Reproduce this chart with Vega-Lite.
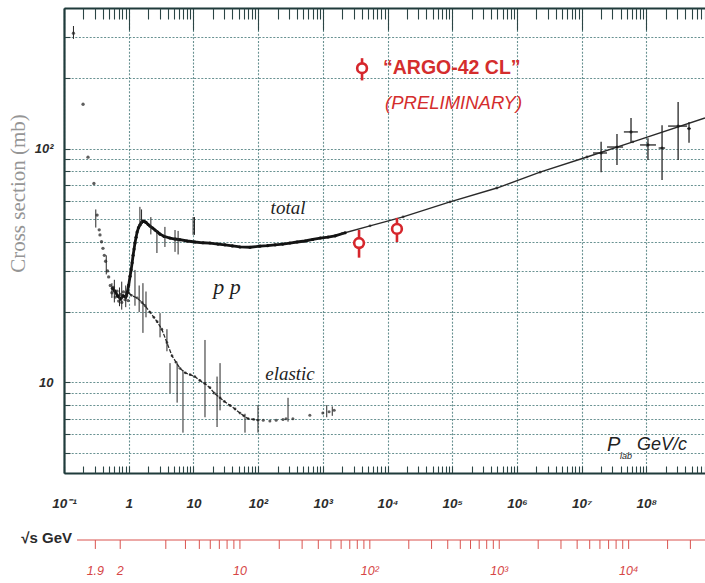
{
  "$schema": "https://vega.github.io/schema/vega-lite/v6.json",
  "width": 641,
  "height": 465,
  "autosize": {"type": "none"},
  "padding": {"left": 64, "top": 8, "right": 0, "bottom": 110},
  "background": "#ffffff",
  "config": {
    "view": {"stroke": null},
    "axis": {
      "labelFont": "Liberation Sans",
      "titleFont": "Liberation Sans",
      "labelOverlap": false,
      "labelFlush": false,
      "labelBound": false,
      "domainColor": "#1f3b3b",
      "domainWidth": 2.2,
      "tickColor": "#2b4545",
      "tickWidth": 1.1,
      "gridColor": "#4f7f7f",
      "gridDash": [2, 1.6],
      "gridWidth": 1.1,
      "gridOpacity": 0.85
    }
  },
  "datasets": {
    "total": [
      {"p": 0.56, "sigma": 25.3}, {"p": 0.61, "sigma": 24.6}, {"p": 0.68, "sigma": 23.4},
      {"p": 0.75, "sigma": 22.8}, {"p": 0.82, "sigma": 23.5}, {"p": 0.9, "sigma": 23.2}, {"p": 0.95, "sigma": 24.3},
      {"p": 1.0, "sigma": 26.1}, {"p": 1.05, "sigma": 28.5}, {"p": 1.09, "sigma": 30.3}, {"p": 1.13, "sigma": 32.5},
      {"p": 1.17, "sigma": 35.0}, {"p": 1.21, "sigma": 37.2}, {"p": 1.25, "sigma": 39.5}, {"p": 1.3, "sigma": 41.8},
      {"p": 1.35, "sigma": 44.0}, {"p": 1.42, "sigma": 46.0}, {"p": 1.49, "sigma": 47.2}, {"p": 1.58, "sigma": 48.4},
      {"p": 1.66, "sigma": 49.0}, {"p": 1.75, "sigma": 48.8}, {"p": 1.85, "sigma": 48.4}, {"p": 2.0, "sigma": 47.4},
      {"p": 2.13, "sigma": 46.7}, {"p": 2.35, "sigma": 45.8}, {"p": 2.55, "sigma": 44.9}, {"p": 2.8, "sigma": 44.0},
      {"p": 3.05, "sigma": 43.1}, {"p": 3.5, "sigma": 42.2}, {"p": 4.35, "sigma": 41.5}, {"p": 5.2, "sigma": 41.1},
      {"p": 6.2, "sigma": 40.8}, {"p": 8.0, "sigma": 40.3}, {"p": 10.6, "sigma": 39.9}, {"p": 14, "sigma": 39.6},
      {"p": 18, "sigma": 39.5}, {"p": 24, "sigma": 39.1}, {"p": 30.7, "sigma": 38.8}, {"p": 40, "sigma": 38.4},
      {"p": 52.5, "sigma": 38.0}, {"p": 75, "sigma": 37.9}, {"p": 107, "sigma": 38.3}, {"p": 140, "sigma": 38.5},
      {"p": 183, "sigma": 38.8}, {"p": 240, "sigma": 39.1}, {"p": 310, "sigma": 39.5}, {"p": 400, "sigma": 39.9},
      {"p": 530, "sigma": 40.3}, {"p": 700, "sigma": 40.9}, {"p": 912, "sigma": 41.5}, {"p": 1200, "sigma": 41.9},
      {"p": 1550, "sigma": 42.4}, {"p": 2220, "sigma": 43.7}
    ],
    "fit": [
      {"p": 2000, "sigma": 43.4}, {"p": 5370, "sigma": 46.8}, {"p": 17400, "sigma": 51.1}, {"p": 92500, "sigma": 59.2},
      {"p": 490000, "sigma": 67.9}, {"p": 2280000, "sigma": 79.4}, {"p": 12100000, "sigma": 92.2},
      {"p": 62000000, "sigma": 107}, {"p": 807000000, "sigma": 135.5}
    ],
    "lowpts": [
      {"p": 0.14, "sigma": 312}, {"p": 0.197, "sigma": 155}, {"p": 0.235, "sigma": 92}, {"p": 0.29, "sigma": 71},
      {"p": 0.325, "sigma": 52}, {"p": 0.35, "sigma": 45}, {"p": 0.36, "sigma": 42.8}, {"p": 0.38, "sigma": 40},
      {"p": 0.4, "sigma": 37.5}, {"p": 0.42, "sigma": 35}, {"p": 0.44, "sigma": 33}, {"p": 0.47, "sigma": 30},
      {"p": 0.49, "sigma": 28.3}, {"p": 0.52, "sigma": 26}, {"p": 0.55, "sigma": 24.2}, {"p": 0.58, "sigma": 25.5},
      {"p": 0.62, "sigma": 23.2}, {"p": 0.66, "sigma": 24.6}, {"p": 0.7, "sigma": 22.3}, {"p": 0.74, "sigma": 23.8},
      {"p": 0.78, "sigma": 22.0}, {"p": 0.83, "sigma": 24.4}, {"p": 0.88, "sigma": 22.6}, {"p": 0.93, "sigma": 23.5},
      {"p": 0.98, "sigma": 22.4}
    ],
    "elastic": [
      {"p": 1.0, "sigma": 24.2}, {"p": 1.1, "sigma": 23.6}, {"p": 1.35, "sigma": 23.0}, {"p": 1.6, "sigma": 22.0},
      {"p": 1.79, "sigma": 21.3}, {"p": 2.13, "sigma": 20.0}, {"p": 2.45, "sigma": 19.0}, {"p": 2.75, "sigma": 18.2},
      {"p": 3.25, "sigma": 16.9}, {"p": 3.9, "sigma": 14.8}, {"p": 4.67, "sigma": 13.0}, {"p": 5.4, "sigma": 12.2},
      {"p": 6.2, "sigma": 11.5}, {"p": 7.5, "sigma": 11.0}, {"p": 8.9, "sigma": 10.8}, {"p": 10.5, "sigma": 10.6},
      {"p": 12.6, "sigma": 10.2}, {"p": 15, "sigma": 9.9}, {"p": 18, "sigma": 9.5}, {"p": 21, "sigma": 9.0},
      {"p": 25.8, "sigma": 8.6}, {"p": 30, "sigma": 8.3}, {"p": 36.8, "sigma": 7.98}, {"p": 44, "sigma": 7.7},
      {"p": 52.5, "sigma": 7.4}, {"p": 60, "sigma": 7.2}, {"p": 70, "sigma": 7.0}, {"p": 85, "sigma": 6.95},
      {"p": 100, "sigma": 6.9}
    ],
    "elasticpts": [
      {"p": 120, "sigma": 6.9}, {"p": 152, "sigma": 6.85}, {"p": 190, "sigma": 6.9}, {"p": 242, "sigma": 6.95},
      {"p": 270, "sigma": 7.0}, {"p": 345, "sigma": 7.0}, {"p": 630, "sigma": 7.25}, {"p": 1000, "sigma": 7.4},
      {"p": 1250, "sigma": 7.5}, {"p": 1500, "sigma": 7.6}
    ],
    "errs": [
      {"p": 0.14, "lo": 295, "hi": 335}, {"p": 0.31, "lo": 46, "hi": 55}, {"p": 0.45, "lo": 29, "hi": 35},
      {"p": 0.55, "lo": 23.0, "hi": 26.6}, {"p": 0.6, "lo": 22, "hi": 27.5}, {"p": 0.72, "lo": 21.2, "hi": 25.5},
      {"p": 0.78, "lo": 20.5, "hi": 27}, {"p": 0.9, "lo": 21, "hi": 26}, {"p": 1.25, "lo": 21.3, "hi": 30.3},
      {"p": 1.49, "lo": 46.3, "hi": 56.4}, {"p": 1.58, "lo": 47, "hi": 55}, {"p": 1.45, "lo": 20, "hi": 26},
      {"p": 1.66, "lo": 16.3, "hi": 26.6}, {"p": 1.85, "lo": 19, "hi": 24.5}, {"p": 2.2, "lo": 43, "hi": 51},
      {"p": 2.73, "lo": 35.8, "hi": 44.9}, {"p": 3.05, "lo": 15.6, "hi": 19.8}, {"p": 3.63, "lo": 38.0, "hi": 46.3},
      {"p": 3.9, "lo": 13.6, "hi": 16.9}, {"p": 4.35, "lo": 9.0, "hi": 12.1}, {"p": 5.2, "lo": 36.2, "hi": 44.9},
      {"p": 5.6, "lo": 8.2, "hi": 12.1}, {"p": 5.8, "lo": 35.3, "hi": 44.5}, {"p": 6.9, "lo": 6.1, "hi": 11.3},
      {"p": 9.9, "lo": 42.8, "hi": 51}, {"p": 10.4, "lo": 42.8, "hi": 51}, {"p": 15.1, "lo": 7.1, "hi": 15.2},
      {"p": 23.2, "lo": 6.45, "hi": 10.6}, {"p": 25.8, "lo": 7.6, "hi": 12.1}, {"p": 62.7, "lo": 6.1, "hi": 7.35},
      {"p": 99.6, "lo": 6.1, "hi": 8.0}, {"p": 290, "lo": 6.8, "hi": 8.6}, {"p": 1150, "lo": 7.1, "hi": 8.0},
      {"p": 1400, "lo": 7.2, "hi": 7.9}
    ],
    "cosmic": [
      {"p": 20000000, "sigma": 95.9, "lo": 79.4, "hi": 107, "plo": 15000000, "phi": 24700000},
      {"p": 35200000, "sigma": 101.7, "lo": 85.1, "hi": 115.6, "plo": 24700000, "phi": 43700000},
      {"p": 58000000, "sigma": 118, "lo": 106, "hi": 135.5, "plo": 45000000, "phi": 74000000},
      {"p": 106000000, "sigma": 103.8, "lo": 89.6, "hi": 111, "plo": 80000000, "phi": 141000000},
      {"p": 175000000, "sigma": 100.7, "lo": 73.5, "hi": 126, "plo": 155000000, "phi": 195000000},
      {"p": 310000000, "sigma": 125, "lo": 89.5, "hi": 158.5, "plo": 217000000, "phi": 427000000},
      {"p": 457000000, "sigma": 122, "lo": 106, "hi": 130, "plo": 430000000, "phi": 485000000}
    ],
    "argo": [
      {"p": 3630, "sigma": 39.5, "lo": 34.2, "hi": 44.9},
      {"p": 14000, "sigma": 45.4, "lo": 39.9, "hi": 50.6}
    ],
    "sqrts": [
      {"rs": 1.9, "p": 0.305, "label": "1.9"}, {"rs": 2, "p": 0.739, "label": "2"},
      {"rs": 3, "p": 3.744, "label": ""}, {"rs": 4, "p": 7.533, "label": ""}, {"rs": 5, "p": 12.35, "label": ""},
      {"rs": 6, "p": 18.23, "label": ""}, {"rs": 7, "p": 25.16, "label": ""}, {"rs": 8, "p": 33.16, "label": ""},
      {"rs": 9, "p": 42.23, "label": ""}, {"rs": 10, "p": 52.36, "label": "10"},
      {"rs": 20, "p": 212.3, "label": ""}, {"rs": 30, "p": 478.8, "label": ""}, {"rs": 40, "p": 851.9, "label": ""},
      {"rs": 50, "p": 1331.7, "label": ""}, {"rs": 60, "p": 1918, "label": ""}, {"rs": 70, "p": 2611, "label": ""},
      {"rs": 80, "p": 3410.6, "label": ""}, {"rs": 90, "p": 4316.7, "label": ""}, {"rs": 100, "p": 5329.5, "label": "10²"},
      {"rs": 200, "p": 21321, "label": ""}, {"rs": 300, "p": 47973, "label": ""}, {"rs": 400, "p": 85287, "label": ""},
      {"rs": 500, "p": 133262, "label": ""}, {"rs": 600, "p": 191898, "label": ""}, {"rs": 700, "p": 261194, "label": ""},
      {"rs": 800, "p": 341151, "label": ""}, {"rs": 900, "p": 431770, "label": ""}, {"rs": 1000, "p": 533049, "label": "10³"},
      {"rs": 2000, "p": 2132196, "label": ""}, {"rs": 3000, "p": 4797441, "label": ""}, {"rs": 4000, "p": 8528785, "label": ""},
      {"rs": 5000, "p": 13326226, "label": ""}, {"rs": 6000, "p": 19189765, "label": ""}, {"rs": 7000, "p": 26119402, "label": ""},
      {"rs": 8000, "p": 34115139, "label": ""}, {"rs": 9000, "p": 43176972, "label": ""}, {"rs": 10000, "p": 53304904, "label": "10⁴"},
      {"rs": 20000, "p": 213219616, "label": ""}, {"rs": 30000, "p": 479744136, "label": ""}
    ]
  },
  "resolve": {"axis": {"x": "independent", "y": "independent"}},
  "layer": [
    {
      "data": {"name": "fit"},
      "mark": {"type": "line", "stroke": "#2a2a2a", "strokeWidth": 1.4},
      "encoding": {
        "x": {
          "field": "p", "type": "quantitative",
          "scale": {"type": "log", "domain": [0.1, 807000000], "nice": false},
          "axis": {
            "orient": "bottom", "title": null,
            "values": [0.1, 1, 10, 100, 1000, 10000, 100000, 1000000, 10000000, 100000000],
            "labelExpr": "datum.value < 0.5 ? '10⁻¹' : datum.value < 5 ? '1' : datum.value < 50 ? '10' : datum.value < 500 ? '10²' : datum.value < 5000 ? '10³' : datum.value < 50000 ? '10⁴' : datum.value < 500000 ? '10⁵' : datum.value < 5000000 ? '10⁶' : datum.value < 50000000 ? '10⁷' : '10⁸'",
            "ticks": false, "grid": true, "domain": true,
            "labelFontSize": 13.5, "labelFontStyle": "italic", "labelFontWeight": "bold", "labelColor": "#2c2c2c",
            "labelPadding": 23
          }
        },
        "y": {
          "field": "sigma", "type": "quantitative",
          "scale": {"type": "log", "domain": [4.1, 400], "nice": false},
          "axis": {
            "orient": "left",
            "values": [5, 6, 7, 8, 9, 10, 20, 30, 40, 50, 60, 70, 80, 90, 100, 200, 300],
            "labelExpr": "datum.value == 100 ? '10²' : datum.value == 10 ? '10' : ''",
            "ticks": false, "grid": true, "domain": true,
            "labelFontSize": 13, "labelFontStyle": "italic", "labelFontWeight": "bold", "labelColor": "#2c2c2c",
            "labelPadding": 11,
            "title": "Cross section (mb)", "titleFont": "Liberation Serif", "titleFontSize": 21,
            "titleFontWeight": "normal", "titleColor": "#959595",
            "titleX": -46, "titleY": 185, "titleAngle": -90, "titleBaseline": "middle", "titleAlign": "center"
          }
        }
      }
    },
    {
      "data": {"name": "total"},
      "mark": {"type": "line", "stroke": "#151515", "strokeWidth": 2.8},
      "encoding": {
        "x": {
          "field": "p", "type": "quantitative",
          "scale": {"type": "log", "domain": [0.1, 807000000], "nice": false},
          "axis": {
            "orient": "top", "title": null, "labels": false, "grid": false, "domain": true,
            "values": [0.1, 1, 10, 100, 1000, 10000, 100000, 1000000, 10000000, 100000000],
            "tickSize": -22
          }
        },
        "y": {
          "field": "sigma", "type": "quantitative",
          "scale": {"type": "log", "domain": [4.1, 400], "nice": false},
          "axis": {
            "orient": "left", "title": null, "labels": false, "grid": false, "domain": false,
            "values": [5, 6, 7, 8, 9, 10, 20, 30, 40, 50, 60, 70, 80, 90, 100, 200, 300],
            "tickSize": -6
          }
        }
      }
    },
    {
      "data": {"name": "elastic"},
      "mark": {"type": "line", "stroke": "#2a2a2a", "strokeWidth": 1.3, "strokeDash": [4, 1.5]},
      "encoding": {
        "x": {
          "field": "p", "type": "quantitative",
          "scale": {"type": "log", "domain": [0.1, 807000000], "nice": false},
          "axis": {
            "orient": "top", "title": null, "labels": false, "grid": false, "domain": false,
            "values": [0.2, 0.3, 0.4, 0.5, 0.6, 0.7, 0.8, 0.9, 2, 3, 4, 5, 6, 7, 8, 9, 20, 30, 40, 50, 60, 70, 80, 90, 200, 300, 400, 500, 600, 700, 800, 900, 2000, 3000, 4000, 5000, 6000, 7000, 8000, 9000, 20000, 30000, 40000, 50000, 60000, 70000, 80000, 90000, 200000, 300000, 400000, 500000, 600000, 700000, 800000, 900000, 2000000, 3000000, 4000000, 5000000, 6000000, 7000000, 8000000, 9000000, 20000000, 30000000, 40000000, 50000000, 60000000, 70000000, 80000000, 90000000, 200000000, 300000000, 400000000, 500000000, 600000000, 700000000, 800000000],
            "tickSize": -11
          }
        },
        "y": {"field": "sigma", "type": "quantitative", "scale": {"type": "log", "domain": [4.1, 400], "nice": false}, "axis": null}
      }
    },
    {
      "data": {"name": "total"},
      "mark": {"type": "point", "shape": "circle", "filled": true, "color": "#111111", "size": 10, "opacity": 1},
      "encoding": {
        "x": {
          "field": "p", "type": "quantitative",
          "scale": {"type": "log", "domain": [0.1, 807000000], "nice": false},
          "axis": {
            "orient": "bottom", "title": null, "labels": false, "grid": false, "domain": false,
            "values": [0.1, 0.2, 0.3, 0.4, 0.5, 0.6, 0.7, 0.8, 0.9, 1, 2, 3, 4, 5, 6, 7, 8, 9, 10, 20, 30, 40, 50, 60, 70, 80, 90, 100, 200, 300, 400, 500, 600, 700, 800, 900, 1000, 2000, 3000, 4000, 5000, 6000, 7000, 8000, 9000, 10000, 20000, 30000, 40000, 50000, 60000, 70000, 80000, 90000, 100000, 200000, 300000, 400000, 500000, 600000, 700000, 800000, 900000, 1000000, 2000000, 3000000, 4000000, 5000000, 6000000, 7000000, 8000000, 9000000, 10000000, 20000000, 30000000, 40000000, 50000000, 60000000, 70000000, 80000000, 90000000, 100000000, 200000000, 300000000, 400000000, 500000000, 600000000, 700000000, 800000000],
            "tickSize": -7
          }
        },
        "y": {"field": "sigma", "type": "quantitative", "scale": {"type": "log", "domain": [4.1, 400], "nice": false}, "axis": null}
      }
    },
    {
      "data": {"name": "fit"},
      "transform": [{"filter": "datum.p < 100000000"}],
      "mark": {"type": "point", "shape": "circle", "filled": true, "color": "#222222", "size": 8},
      "encoding": {
        "x": {"field": "p", "type": "quantitative", "scale": {"type": "log", "domain": [0.1, 807000000], "nice": false}, "axis": null},
        "y": {"field": "sigma", "type": "quantitative", "scale": {"type": "log", "domain": [4.1, 400], "nice": false}, "axis": null}
      }
    },
    {
      "data": {"name": "lowpts"},
      "mark": {"type": "point", "shape": "circle", "filled": true, "color": "#1a1a1a", "size": 11},
      "encoding": {
        "x": {"field": "p", "type": "quantitative", "scale": {"type": "log", "domain": [0.1, 807000000], "nice": false}, "axis": null},
        "y": {"field": "sigma", "type": "quantitative", "scale": {"type": "log", "domain": [4.1, 400], "nice": false}, "axis": null}
      }
    },
    {
      "data": {"name": "elasticpts"},
      "mark": {"type": "point", "shape": "circle", "filled": true, "color": "#1a1a1a", "size": 9},
      "encoding": {
        "x": {"field": "p", "type": "quantitative", "scale": {"type": "log", "domain": [0.1, 807000000], "nice": false}, "axis": null},
        "y": {"field": "sigma", "type": "quantitative", "scale": {"type": "log", "domain": [4.1, 400], "nice": false}, "axis": null}
      }
    },
    {
      "data": {"name": "elastic"},
      "mark": {"type": "point", "shape": "circle", "filled": true, "color": "#1a1a1a", "size": 8},
      "encoding": {
        "x": {"field": "p", "type": "quantitative", "scale": {"type": "log", "domain": [0.1, 807000000], "nice": false}, "axis": null},
        "y": {"field": "sigma", "type": "quantitative", "scale": {"type": "log", "domain": [4.1, 400], "nice": false}, "axis": null}
      }
    },
    {
      "data": {"name": "errs"},
      "mark": {"type": "rule", "stroke": "#262626", "strokeWidth": 1},
      "encoding": {
        "x": {"field": "p", "type": "quantitative", "scale": {"type": "log", "domain": [0.1, 807000000], "nice": false}, "axis": null},
        "y": {"field": "lo", "type": "quantitative", "scale": {"type": "log", "domain": [4.1, 400], "nice": false}, "axis": null},
        "y2": {"field": "hi"}
      }
    },
    {
      "data": {"name": "cosmic"},
      "mark": {"type": "rule", "stroke": "#262626", "strokeWidth": 1.3},
      "encoding": {
        "x": {"field": "p", "type": "quantitative", "scale": {"type": "log", "domain": [0.1, 807000000], "nice": false}, "axis": null},
        "y": {"field": "lo", "type": "quantitative", "scale": {"type": "log", "domain": [4.1, 400], "nice": false}, "axis": null},
        "y2": {"field": "hi"}
      }
    },
    {
      "data": {"name": "cosmic"},
      "mark": {"type": "rule", "stroke": "#262626", "strokeWidth": 1.3},
      "encoding": {
        "x": {"field": "plo", "type": "quantitative", "scale": {"type": "log", "domain": [0.1, 807000000], "nice": false}, "axis": null},
        "x2": {"field": "phi"},
        "y": {"field": "sigma", "type": "quantitative", "scale": {"type": "log", "domain": [4.1, 400], "nice": false}, "axis": null}
      }
    },
    {
      "data": {"name": "cosmic"},
      "mark": {"type": "point", "shape": "circle", "filled": true, "color": "#111111", "size": 10},
      "encoding": {
        "x": {"field": "p", "type": "quantitative", "scale": {"type": "log", "domain": [0.1, 807000000], "nice": false}, "axis": null},
        "y": {"field": "sigma", "type": "quantitative", "scale": {"type": "log", "domain": [4.1, 400], "nice": false}, "axis": null}
      }
    },
    {
      "data": {"name": "argo"},
      "mark": {"type": "rule", "stroke": "#d6262c", "strokeWidth": 2.6},
      "encoding": {
        "x": {"field": "p", "type": "quantitative", "scale": {"type": "log", "domain": [0.1, 807000000], "nice": false}, "axis": null},
        "y": {"field": "lo", "type": "quantitative", "scale": {"type": "log", "domain": [4.1, 400], "nice": false}, "axis": null},
        "y2": {"field": "hi"}
      }
    },
    {
      "data": {"name": "argo"},
      "mark": {"type": "point", "shape": "circle", "filled": true, "fill": "#ffffff", "stroke": "#d6262c", "strokeWidth": 2.6, "size": 95, "opacity": 1},
      "encoding": {
        "x": {"field": "p", "type": "quantitative", "scale": {"type": "log", "domain": [0.1, 807000000], "nice": false}, "axis": null},
        "y": {"field": "sigma", "type": "quantitative", "scale": {"type": "log", "domain": [4.1, 400], "nice": false}, "axis": null}
      }
    },
    {
      "data": {"values": [{}]},
      "mark": {"type": "rule", "stroke": "#d6262c", "strokeWidth": 2.6},
      "encoding": {
        "x": {"datum": 4040, "type": "quantitative", "scale": {"type": "log", "domain": [0.1, 807000000], "nice": false}, "axis": null},
        "y": {"datum": 196, "type": "quantitative", "scale": {"type": "log", "domain": [4.1, 400], "nice": false}, "axis": null},
        "y2": {"datum": 244}
      }
    },
    {
      "data": {"values": [{}]},
      "mark": {"type": "point", "shape": "circle", "filled": true, "fill": "#ffffff", "stroke": "#d6262c", "strokeWidth": 2.6, "size": 95, "opacity": 1},
      "encoding": {
        "x": {"datum": 4040, "type": "quantitative", "scale": {"type": "log", "domain": [0.1, 807000000], "nice": false}, "axis": null},
        "y": {"datum": 221, "type": "quantitative", "scale": {"type": "log", "domain": [4.1, 400], "nice": false}, "axis": null}
      }
    },
    {
      "data": {"values": [{}]},
      "mark": {"type": "text", "text": "“ARGO-42 CL”", "font": "Liberation Sans", "fontWeight": "bold", "fontSize": 19.5, "color": "#d42d2d", "align": "left", "baseline": "middle"},
      "encoding": {
        "x": {"datum": 8517, "type": "quantitative", "scale": {"type": "log", "domain": [0.1, 807000000], "nice": false}, "axis": null},
        "y": {"datum": 221.5, "type": "quantitative", "scale": {"type": "log", "domain": [4.1, 400], "nice": false}, "axis": null}
      }
    },
    {
      "data": {"values": [{}]},
      "mark": {"type": "text", "text": "(PRELIMINARY)", "font": "Liberation Sans", "fontStyle": "italic", "fontSize": 18.5, "color": "#d42d2d", "align": "left", "baseline": "middle"},
      "encoding": {
        "x": {"datum": 9150, "type": "quantitative", "scale": {"type": "log", "domain": [0.1, 807000000], "nice": false}, "axis": null},
        "y": {"datum": 157, "type": "quantitative", "scale": {"type": "log", "domain": [4.1, 400], "nice": false}, "axis": null}
      }
    },
    {
      "data": {"values": [{}]},
      "mark": {"type": "text", "text": "total", "font": "Liberation Serif", "fontStyle": "italic", "fontSize": 19, "color": "#1e1e1e", "align": "center", "baseline": "middle"},
      "encoding": {
        "x": {"datum": 290, "type": "quantitative", "scale": {"type": "log", "domain": [0.1, 807000000], "nice": false}, "axis": null},
        "y": {"datum": 55.8, "type": "quantitative", "scale": {"type": "log", "domain": [4.1, 400], "nice": false}, "axis": null}
      }
    },
    {
      "data": {"values": [{}]},
      "mark": {"type": "text", "text": "p p", "font": "Liberation Serif", "fontStyle": "italic", "fontSize": 22, "color": "#1e1e1e", "align": "center", "baseline": "middle"},
      "encoding": {
        "x": {"datum": 33, "type": "quantitative", "scale": {"type": "log", "domain": [0.1, 807000000], "nice": false}, "axis": null},
        "y": {"datum": 25.6, "type": "quantitative", "scale": {"type": "log", "domain": [4.1, 400], "nice": false}, "axis": null}
      }
    },
    {
      "data": {"values": [{}]},
      "mark": {"type": "text", "text": "elastic", "font": "Liberation Serif", "fontStyle": "italic", "fontSize": 19, "color": "#1e1e1e", "align": "center", "baseline": "middle"},
      "encoding": {
        "x": {"datum": 311, "type": "quantitative", "scale": {"type": "log", "domain": [0.1, 807000000], "nice": false}, "axis": null},
        "y": {"datum": 10.87, "type": "quantitative", "scale": {"type": "log", "domain": [4.1, 400], "nice": false}, "axis": null}
      }
    },
    {
      "data": {"values": [{}]},
      "mark": {"type": "text", "text": "P", "font": "Liberation Sans", "fontStyle": "italic", "fontSize": 20, "color": "#222222", "align": "left", "baseline": "middle"},
      "encoding": {
        "x": {"datum": 24700000, "type": "quantitative", "scale": {"type": "log", "domain": [0.1, 807000000], "nice": false}, "axis": null},
        "y": {"datum": 5.4, "type": "quantitative", "scale": {"type": "log", "domain": [4.1, 400], "nice": false}, "axis": null}
      }
    },
    {
      "data": {"values": [{}]},
      "mark": {"type": "text", "text": "lab", "font": "Liberation Sans", "fontStyle": "italic", "fontSize": 9, "color": "#222222", "align": "left", "baseline": "middle"},
      "encoding": {
        "x": {"datum": 39200000, "type": "quantitative", "scale": {"type": "log", "domain": [0.1, 807000000], "nice": false}, "axis": null},
        "y": {"datum": 4.85, "type": "quantitative", "scale": {"type": "log", "domain": [4.1, 400], "nice": false}, "axis": null}
      }
    },
    {
      "data": {"values": [{}]},
      "mark": {"type": "text", "text": "GeV/c", "font": "Liberation Sans", "fontStyle": "italic", "fontSize": 18, "color": "#222222", "align": "left", "baseline": "middle"},
      "encoding": {
        "x": {"datum": 71800000, "type": "quantitative", "scale": {"type": "log", "domain": [0.1, 807000000], "nice": false}, "axis": null},
        "y": {"datum": 5.4, "type": "quantitative", "scale": {"type": "log", "domain": [4.1, 400], "nice": false}, "axis": null}
      }
    },
    {
      "data": {"values": [{}]},
      "mark": {"type": "rule", "stroke": "#d9534f", "strokeWidth": 1},
      "encoding": {
        "x": {"datum": 0.159, "type": "quantitative", "scale": {"type": "log", "domain": [0.1, 807000000], "nice": false}, "axis": null},
        "x2": {"datum": 807000000},
        "y": {"datum": 2.119, "type": "quantitative", "scale": {"type": "log", "domain": [4.1, 400], "nice": false}, "axis": null}
      }
    },
    {
      "data": {"name": "sqrts"},
      "mark": {"type": "rule", "stroke": "#d9534f", "strokeWidth": 1},
      "encoding": {
        "x": {"field": "p", "type": "quantitative", "scale": {"type": "log", "domain": [0.1, 807000000], "nice": false}, "axis": null},
        "y": {"datum": 2.119, "type": "quantitative", "scale": {"type": "log", "domain": [4.1, 400], "nice": false}, "axis": null},
        "y2": {"datum": 1.94}
      }
    },
    {
      "data": {"name": "sqrts"},
      "transform": [{"filter": "datum.label != ''"}],
      "mark": {"type": "text", "font": "Liberation Sans", "fontStyle": "italic", "fontSize": 12.5, "color": "#d64545", "align": "center", "baseline": "middle"},
      "encoding": {
        "x": {"field": "p", "type": "quantitative", "scale": {"type": "log", "domain": [0.1, 807000000], "nice": false}, "axis": null},
        "y": {"datum": 1.562, "type": "quantitative", "scale": {"type": "log", "domain": [4.1, 400], "nice": false}, "axis": null},
        "text": {"field": "label"}
      }
    },
    {
      "data": {"values": [{}]},
      "mark": {"type": "text", "text": "√s GeV", "font": "Liberation Sans", "fontWeight": "bold", "fontSize": 15, "color": "#2a2a2a", "align": "right", "baseline": "middle"},
      "encoding": {
        "x": {"datum": 0.133, "type": "quantitative", "scale": {"type": "log", "domain": [0.1, 807000000], "nice": false}, "axis": null},
        "y": {"datum": 2.161, "type": "quantitative", "scale": {"type": "log", "domain": [4.1, 400], "nice": false}, "axis": null}
      }
    }
  ]
}
